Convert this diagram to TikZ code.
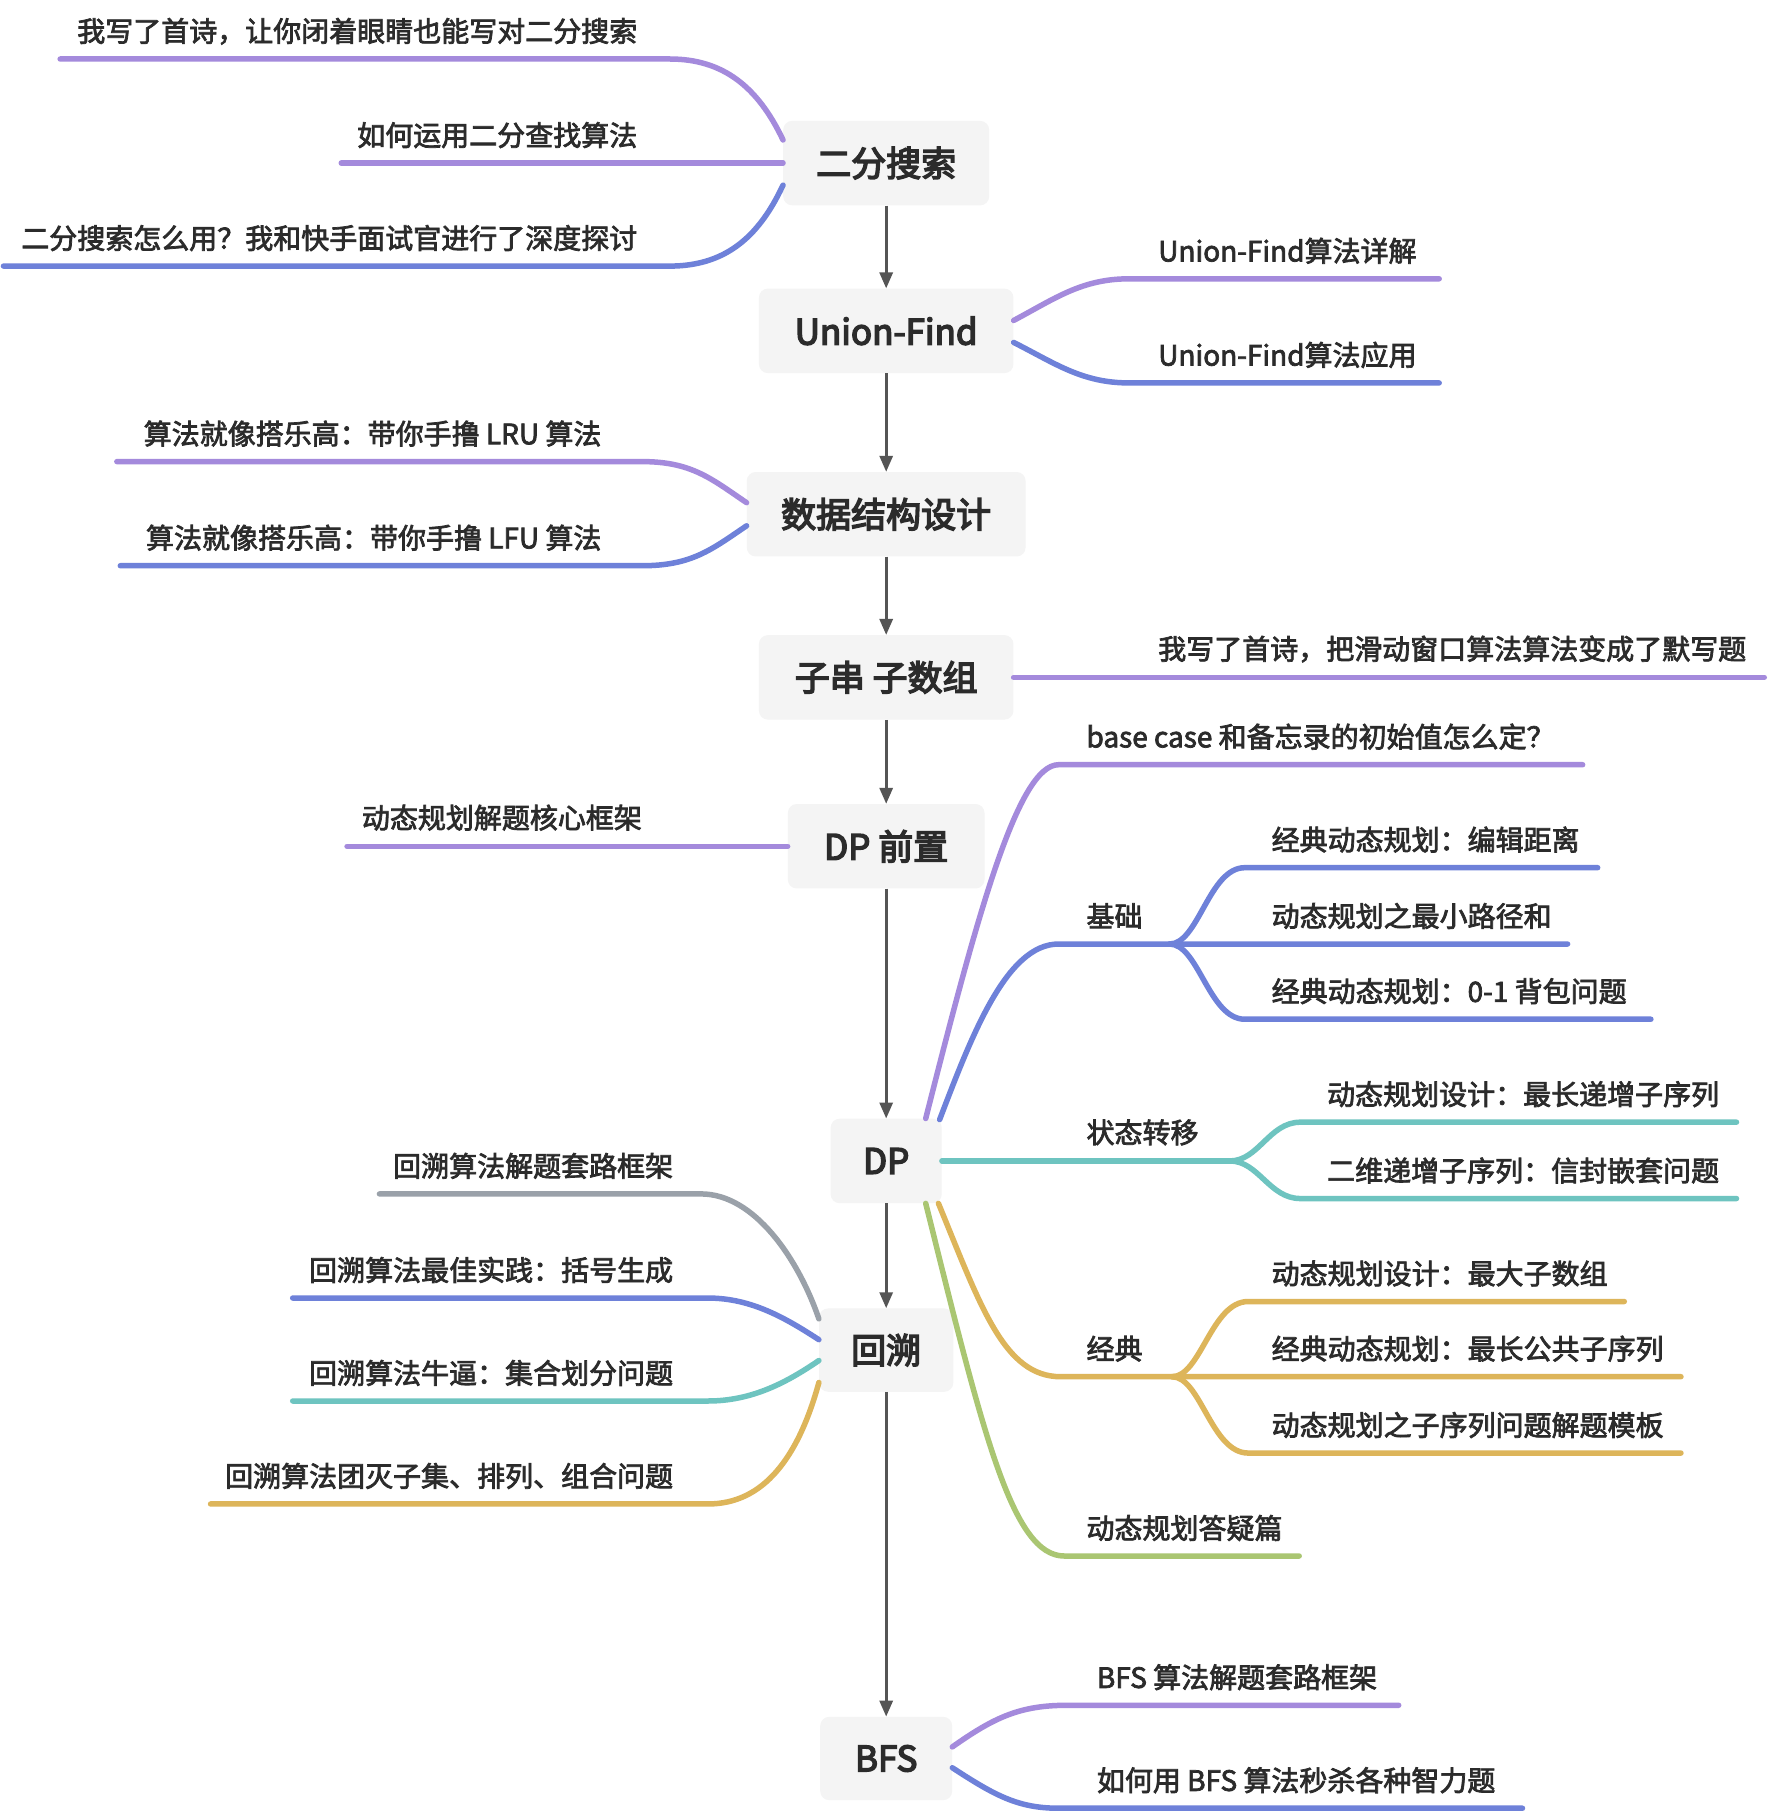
\documentclass[tikz,border=0pt]{standalone}
\usepackage{fontspec}
\setmainfont{Noto Sans CJK SC}
\newfontfamily\lblfont{Noto Sans CJK SC}[FakeBold=2.6]
\newfontfamily\ttlfont{Noto Sans CJK SC}[FakeBold=4.2]
\usetikzlibrary{arrows.meta,calc}
\definecolor{cPur}{HTML}{A48ADC}
\definecolor{cBlu}{HTML}{6E81D9}
\definecolor{cTea}{HTML}{6EC4C0}
\definecolor{cGol}{HTML}{DDB55A}
\definecolor{cGrn}{HTML}{AAC672}
\definecolor{cGry}{HTML}{9AA1A9}
\definecolor{cBox}{HTML}{F4F4F4}
\definecolor{cTxt}{HTML}{2B2B2B}
\definecolor{cArr}{HTML}{555555}
\tikzset{
 topic/.style={fill=cBox, rounded corners=9pt, inner sep=0pt, text=cTxt, font=\ttlfont\fontsize{35}{40}\selectfont},
 lbl/.style={inner sep=0pt, text=cTxt, font=\lblfont\fontsize{28}{32}\selectfont},
 lblL/.style={lbl, anchor=base east},
 lblR/.style={lbl, anchor=base west},
 branch/.style={line width=5.5pt, line cap=round},
 flow/.style={draw=cArr, line width=3pt, -{Triangle[length=16pt,width=13pt]}},
}
\begin{document}
\begin{tikzpicture}[x=1.157pt,y=-1.157pt]
\useasboundingbox[fill=white] (0,0) rectangle (1528,1568);
% topics
\node[topic, minimum width=178*1.157pt, minimum height=73*1.157pt] (n1) at (766,141) {二分搜索};
\node[topic, minimum width=220*1.157pt, minimum height=73*1.157pt] (n2) at (766,286) {Union-Find};
\node[topic, minimum width=241*1.157pt, minimum height=73*1.157pt] (n3) at (766,444.5) {数据结构设计};
\node[topic, minimum width=220*1.157pt, minimum height=73*1.157pt] (n4) at (766,585.5) {子串 子数组};
\node[topic, minimum width=170*1.157pt, minimum height=73*1.157pt] (n5) at (766,731.5) {DP 前置};
\node[topic, minimum width=96*1.157pt, minimum height=73*1.157pt] (n6) at (766,1003.5) {DP};
\node[topic, minimum width=116*1.157pt, minimum height=72*1.157pt] (n7) at (766,1167) {回溯};
\node[topic, minimum width=114*1.157pt, minimum height=72*1.157pt] (n8) at (766,1520) {BFS};
% flow arrows
\draw[flow] (n1) -- (n2);
\draw[flow] (n2) -- (n3);
\draw[flow] (n3) -- (n4);
\draw[flow] (n4) -- (n5);
\draw[flow] (n5) -- (n6);
\draw[flow] (n6) -- (n7);
\draw[flow] (n7) -- (n8);
% 二分搜索
\draw[branch,cPur] ($(n1.west)+(0,-20)$) .. controls (655,75) and (625,51) .. (579,51) -- (52,51) coordinate (e11);
\draw[branch,cPur] (n1.west) -- (295,141) coordinate (e12);
\draw[branch,cBlu] ($(n1.west)+(0,19)$) .. controls (655,207) and (625,230) .. (579,230) -- (3,230) coordinate (e13);
\node[lblL] (t11) at (551,36) {我写了首诗，让你闭着眼睛也能写对二分搜索};
\node[lblL] (t12) at (551,126) {如何运用二分查找算法};
\node[lblL] (t13) at (551,215) {二分搜索怎么用？我和快手面试官进行了深度探讨};
% Union-Find
\draw[branch,cPur] ($(n2.east)+(0,-9)$) .. controls (912,258) and (935,241) .. (976,241) -- (1244,241) coordinate (e21);
\draw[branch,cBlu] ($(n2.east)+(0,10)$) .. controls (912,314) and (935,331) .. (976,331) -- (1244,331) coordinate (e22);
\node[lblR] (t21) at (1001,226) {Union-Find算法详解};
\node[lblR] (t22) at (1001,316) {Union-Find算法应用};
% 数据结构设计
\draw[branch,cPur] ($(n3.west)+(0,-10)$) .. controls (615,414) and (598,399) .. (555,399) -- (101,399) coordinate (e31);
\draw[branch,cBlu] ($(n3.west)+(0,10)$) .. controls (615,475) and (598,489) .. (555,489) -- (104,489) coordinate (e32);
\node[lblL] (t31) at (520,384) {算法就像搭乐高：带你手撸 LRU 算法};
\node[lblL] (t32) at (520,474) {算法就像搭乐高：带你手撸 LFU 算法};
% 子串 子数组
\draw[branch,cPur] (n4.east) -- (1525,585.5) coordinate (e41);
\node[lblR] (t41) at (1001,570) {我写了首诗，把滑动窗口算法算法变成了默写题};
% DP 前置
\draw[branch,cPur] (n5.west) -- (300,731.5) coordinate (e51);
\node[lblL] (t51) at (555,716) {动态规划解题核心框架};
% DP
\draw[branch,cPur] ($(n6.north east)+(-14,0)$) .. controls (845,790) and (880,661) .. (915,661) -- (1368,661) coordinate (e61);
\node[lblR] (t61) at (939,646) {base case 和备忘录的初始值怎么定？};
\coordinate (j62) at (1011,816);
\draw[branch,cBlu] ($(n6.north east)+(-2,1)$) .. controls (840,895) and (870,816) .. (915,816) -- (1355,816) coordinate (e622);
\draw[branch,cBlu] (j62) .. controls (1036,816) and (1045,750) .. (1076,750) -- (1381,750) coordinate (e621);
\draw[branch,cBlu] (j62) .. controls (1036,816) and (1045,881) .. (1076,881) -- (1427,881) coordinate (e623);
\node[lblR] (t62) at (939,801) {基础};
\node[lblR] (t621) at (1099,735) {经典动态规划：编辑距离};
\node[lblR] (t622) at (1099,801) {动态规划之最小路径和};
\node[lblR] (t623) at (1099,866) {经典动态规划：0-1 背包问题};
\draw[branch,cTea] (n6.east) -- (1063,1003.5) coordinate (j63);
\draw[branch,cTea] (j63) .. controls (1088,1003.5) and (1097,970) .. (1124,970) -- (1501,970) coordinate (e631);
\draw[branch,cTea] (j63) .. controls (1088,1003.5) and (1097,1036) .. (1124,1036) -- (1501,1036) coordinate (e632);
\node[lblR] (t63) at (939,988) {状态转移};
\node[lblR] (t631) at (1147,955) {动态规划设计：最长递增子序列};
\node[lblR] (t632) at (1147,1021) {二维递增子序列：信封嵌套问题};
\coordinate (j64) at (1013,1190);
\draw[branch,cGol] ($(n6.south east)+(-3,0)$) .. controls (848,1130) and (868,1190) .. (917,1190) -- (1453,1190) coordinate (e642);
\draw[branch,cGol] (j64) .. controls (1038,1190) and (1047,1125) .. (1079,1125) -- (1404,1125) coordinate (e641);
\draw[branch,cGol] (j64) .. controls (1038,1190) and (1047,1256) .. (1079,1256) -- (1453,1256) coordinate (e643);
\node[lblR] (t64) at (939,1175) {经典};
\node[lblR] (t641) at (1099,1110) {动态规划设计：最大子数组};
\node[lblR] (t642) at (1099,1175) {经典动态规划：最长公共子序列};
\node[lblR] (t643) at (1099,1241) {动态规划之子序列问题解题模板};
\draw[branch,cGrn] ($(n6.south east)+(-14,0)$) .. controls (850,1240) and (875,1345) .. (920,1345) -- (1123,1345) coordinate (e65);
\node[lblR] (t65) at (939,1330) {动态规划答疑篇};
% 回溯
\draw[branch,cGry] ($(n7.west)+(0,-27)$) .. controls (690,1088) and (652,1032) .. (606,1032) -- (328,1032) coordinate (e71);
\draw[branch,cBlu] ($(n7.west)+(0,-9)$) .. controls (680,1140) and (650,1122) .. (612,1122) -- (253,1122) coordinate (e72);
\draw[branch,cTea] ($(n7.west)+(0,9)$) .. controls (680,1195) and (650,1211) .. (612,1211) -- (253,1211) coordinate (e73);
\draw[branch,cGol] ($(n7.west)+(0,28)$) .. controls (690,1260) and (660,1300) .. (612,1300) -- (182,1300) coordinate (e74);
\node[lblL] (t71) at (582,1017) {回溯算法解题套路框架};
\node[lblL] (t72) at (582,1107) {回溯算法最佳实践：括号生成};
\node[lblL] (t73) at (582,1196) {回溯算法牛逼：集合划分问题};
\node[lblL] (t74) at (582,1285) {回溯算法团灭子集、排列、组合问题};
% BFS
\draw[branch,cPur] ($(n8.east)+(0,-10)$) .. controls (860,1484) and (882,1474) .. (923,1474) -- (1209,1474) coordinate (e81);
\draw[branch,cBlu] ($(n8.east)+(0,8)$) .. controls (860,1552) and (880,1563) .. (915,1563) -- (1316,1563) coordinate (e82);
\node[lblR] (t81) at (948,1459) {BFS 算法解题套路框架};
\node[lblR] (t82) at (948,1548) {如何用 BFS 算法秒杀各种智力题};
\end{tikzpicture}
\end{document}
